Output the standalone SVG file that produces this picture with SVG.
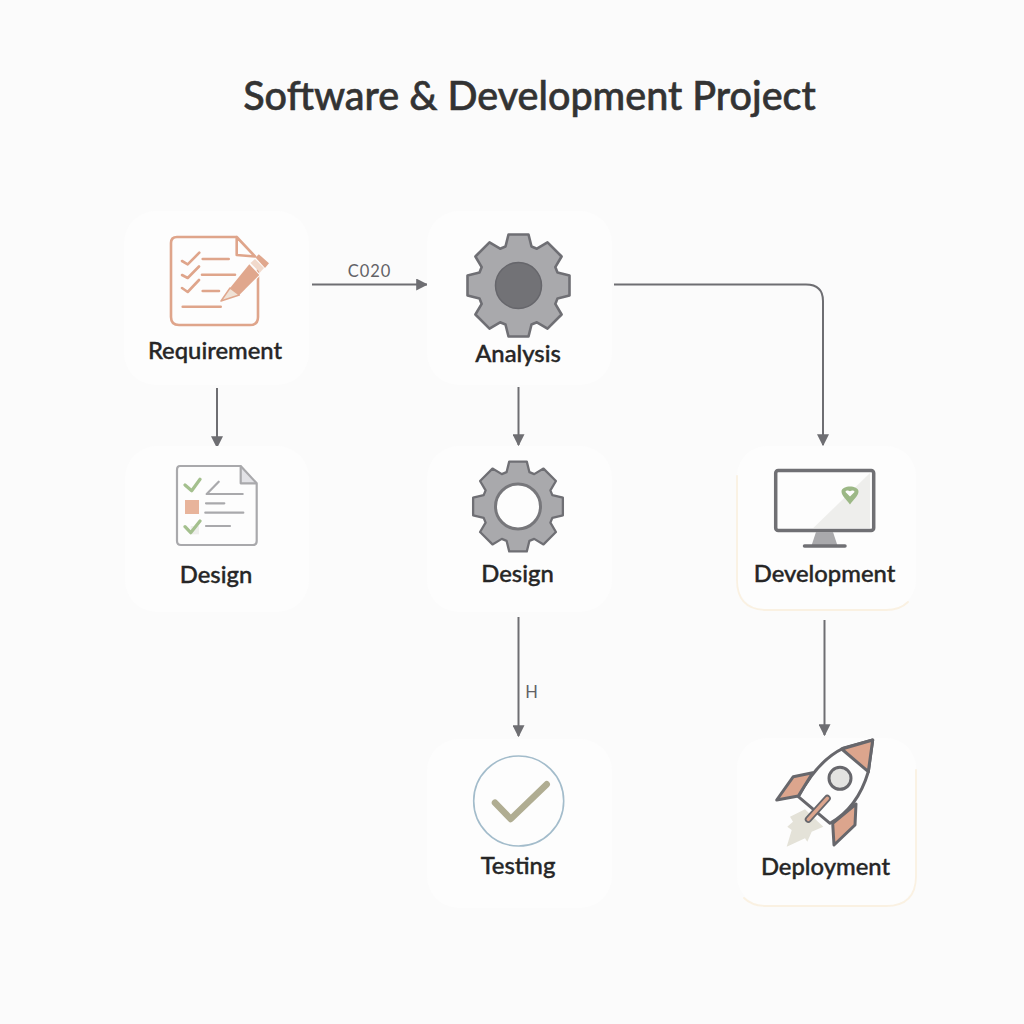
<svg xmlns="http://www.w3.org/2000/svg" width="1024" height="1024" viewBox="0 0 1024 1024">
<style>
.card{fill:#fdfdfd}
.cream{fill:none;stroke:#faf1e2;stroke-width:1.8;stroke-linecap:round}
.lbl{font-family:"Lato","Liberation Sans",sans-serif;font-size:23.800px;font-weight:500;fill:#262626;stroke:#262626;stroke-width:.4;text-anchor:middle}
.title{font-family:"Lato","Liberation Sans",sans-serif;font-size:39.500px;font-weight:500;fill:#333333;stroke:#333333;stroke-width:.6;text-anchor:middle}
.small{font-family:"Lato","Liberation Sans",sans-serif;font-size:16.500px;letter-spacing:1px;fill:#626266;text-anchor:middle}
.conn{fill:none;stroke:#6e6e72;stroke-width:2}
.o{fill:none;stroke:#dfa58b;stroke-width:2.6;stroke-linecap:round;stroke-linejoin:round}
.g{fill:none;stroke:#a9a9ac;stroke-width:2.2;stroke-linecap:round;stroke-linejoin:round}
.c{fill:none;stroke:#a4c08e;stroke-width:3.2;stroke-linecap:round;stroke-linejoin:round}
.d{stroke:#67676c;stroke-width:3;stroke-linejoin:round}
.gear{fill:#a9a9ac;stroke:#6f6f74;stroke-width:2.6;stroke-linejoin:round}
</style>
<defs>
<marker id="ah" viewBox="0 0 10 10" refX="9" refY="5" markerWidth="6" markerHeight="6" orient="auto"><path d="M0 0L10 5L0 10Z" fill="#6e6e72"/></marker>
<path id="gearShape" d="M-13-39L-10-51L10-51L13-39L18.4-36.800L29-43.100L43.100-29L36.800-18.400L39-13L51-10L51 10L39 13L36.800 18.400L43.100 29L29 43.100L18.400 36.800L13 39L10 51L-10 51L-13 39L-18.400 36.800L-29 43.100L-43.100 29L-36.800 18.400L-39 13L-51 10L-51-10L-39-13L-36.800-18.400L-43.100-29L-29-43.100L-18.400-36.800Z"/>
</defs>
<rect width="1024" height="1024" fill="#fbfbfb"/>
<text class="title" x="529.500" y="110">Software &amp; Development Project</text>
<g id="connectors">
<path class="conn" d="M312 284.500H427" marker-end="url(#ah)"/>
<path class="conn" d="M217 388V447" marker-end="url(#ah)"/>
<path class="conn" d="M518.500 387V445" marker-end="url(#ah)"/>
<path class="conn" d="M614 284.500H806Q823 284.500 823 301V445" marker-end="url(#ah)"/>
<path class="conn" d="M518.500 617V736" marker-end="url(#ah)"/>
<path class="conn" d="M824.500 620V735" marker-end="url(#ah)"/>
<text class="small" x="369.500" y="277">C020</text>
<text class="small" x="532" y="698">H</text>
</g>
<g id="requirement">
<rect class="card" x="124" y="211" width="185" height="174" rx="32"/>
<path class="o" d="M236.700 237H177Q171 237 171 243V317Q171 325 179 325H250Q258 325 258 317V270M236.700 237L255 256.500L236.700 255V237"/>
<path class="o" d="M182 261L187.700 264.300L199.300 252.700M182 275L187.700 278L199 266.500M182 288L187.700 292L199 280"/>
<path class="o" d="M202.700 259H228.700M202 274.700H235M202.700 291H219M182.700 306.700H220.700"/>
<path d="M230 288L249.300 264.300L259.300 275L239.300 295Z" fill="#e0a78d" stroke="#fdfdfd" stroke-width="2"/>
<path d="M230 288L249.300 264.300L259.300 275L239.300 295Z" fill="#e0a78d"/>
<path d="M250.500 263L255 259L264 268L260 272.500Z" fill="#f1d9cb"/>
<path d="M255.500 257.500L258.800 254.300L269 263.300L265 268Z" fill="#e0a78d"/>
<path d="M221 301L230 288L239.300 295Z" fill="#f0e2d6" stroke="#e0a78d" stroke-width="1.500" stroke-linejoin="round"/>
<text class="lbl" x="215" y="358.500">Requirement</text>
</g>
<g id="analysis">
<rect class="card" x="427" y="211" width="185" height="174" rx="32"/>
<use href="#gearShape" class="gear" transform="translate(518.500 285.500)"/>
<circle cx="518.500" cy="285.500" r="23" fill="#727276" stroke="#66666b" stroke-width="1.500"/>
<text class="lbl" x="518" y="361.500">Analysis</text>
</g>
<g id="design-doc">
<rect class="card" x="125" y="446" width="184" height="166" rx="32"/>
<path d="M240.700 466.700V483.300H256Z" fill="#e2e2e6"/>
<path class="g" d="M180 466H240.700L256.700 483.300V541Q256.700 545 252.700 545H181Q177 545 177 541V470Q177 466 180 466Z"/>
<path class="g" d="M240.700 466.700V483.300H256"/>
<rect x="185" y="500" width="14" height="14" fill="#e8b49b"/>
<rect x="190.700" y="526" width="8.300" height="8.300" fill="#eeeeec"/>
<path class="c" d="M185 485L191.700 490.700L200 479.300M185 526.700L190.700 532.700L200 521"/>
<path class="g" d="M218.700 481.700L206.700 494H242.700M206 503.300H224.300M205.300 512.700H243.300M206 526H230"/>
<text class="lbl" x="216" y="583">Design</text>
</g>
<g id="design-gear">
<rect class="card" x="427" y="446" width="185" height="166" rx="32"/>
<use href="#gearShape" class="gear" transform="translate(518 506.500) scale(.88)"/>
<circle cx="518" cy="506.500" r="22.500" fill="#fdfdfd" stroke="#77777b" stroke-width="3"/>
<text class="lbl" x="517.500" y="582">Design</text>
</g>
<g id="development">
<rect class="card" x="737" y="446" width="179" height="164" rx="30"/>
<path class="cream" d="M737 476V580Q737 610 767 610H886Q900 610 908 602"/>
<path d="M813.300 528L870 473V528Z" fill="#eeeeec"/>
<rect x="775.700" y="470.500" width="98" height="60" rx="2.500" fill="none" stroke="#707074" stroke-width="3.500"/>
<path d="M816 532H833L837.300 545H811.700Z" fill="#a9a9ac"/>
<path d="M804.500 546H845" stroke="#707074" stroke-width="3.500" stroke-linecap="round"/>
<path d="M850 504.500C846 499 841.500 495.500 841.500 491.500C841.500 488 846 486.500 850 486.500C854 486.500 858.500 488 858.500 491.500C858.500 495.500 854 499 850 504.500Z" fill="#9cb886"/>
<path d="M850 496.500L845.500 492C845.500 490.500 848 490 850 491.300C852 490 854.500 490.500 854.500 492Z" fill="#fdfdfd"/>
<text class="lbl" x="824.500" y="581.500">Development</text>
</g>
<g id="testing">
<rect class="card" x="427" y="739" width="185" height="169" rx="32"/>
<circle cx="518.700" cy="801" r="45" fill="none" stroke="#a3bccb" stroke-width="1.600"/>
<path d="M495 802.700L510.700 819L546.700 784.300" fill="none" stroke="#b0ad92" stroke-width="6.500" stroke-linecap="round" stroke-linejoin="round"/>
<text class="lbl" x="518" y="874">Testing</text>
</g>
<g id="deployment">
<rect class="card" x="737" y="738" width="179" height="168" rx="30"/>
<path class="cream" d="M916 770V876Q916 906 886 906H767Q752 906 744 898"/>
<path d="M805 809.300L790 816.700L793 821.700L787.300 826.700L791.700 830L786.700 846.700L805 838.300L807.300 841.700L811.700 831.700L823.300 826.700L813 817Z" fill="#e4e2d8"/>
<path class="d" d="M843 748.300C825 757 810 775 798.300 796.700L830 823.300C850 812 862 793 868.300 771.700L872.700 740Z" fill="#fdfdfd"/>
<path class="d" d="M872.700 740L841.700 749L868.300 771.700Z" fill="#dca58d"/>
<path class="d" d="M776.700 800L793.300 776.700L812.700 772.700L798.300 796Z" fill="#dca58d"/>
<path class="d" d="M856 804L855 825L834 845L832.700 823.300Z" fill="#dca58d"/>
<circle class="d" cx="840" cy="778.300" r="11" fill="#e3e3e1"/>
<path d="M808.300 819.300L827.300 798.300" stroke="#67676c" stroke-width="7" stroke-linecap="round"/>
<path d="M808.300 819.300L827.300 798.300" stroke="#dca58d" stroke-width="3.500" stroke-linecap="round"/>
<text class="lbl" x="825.500" y="874.500">Deployment</text>
</g>
</svg>
